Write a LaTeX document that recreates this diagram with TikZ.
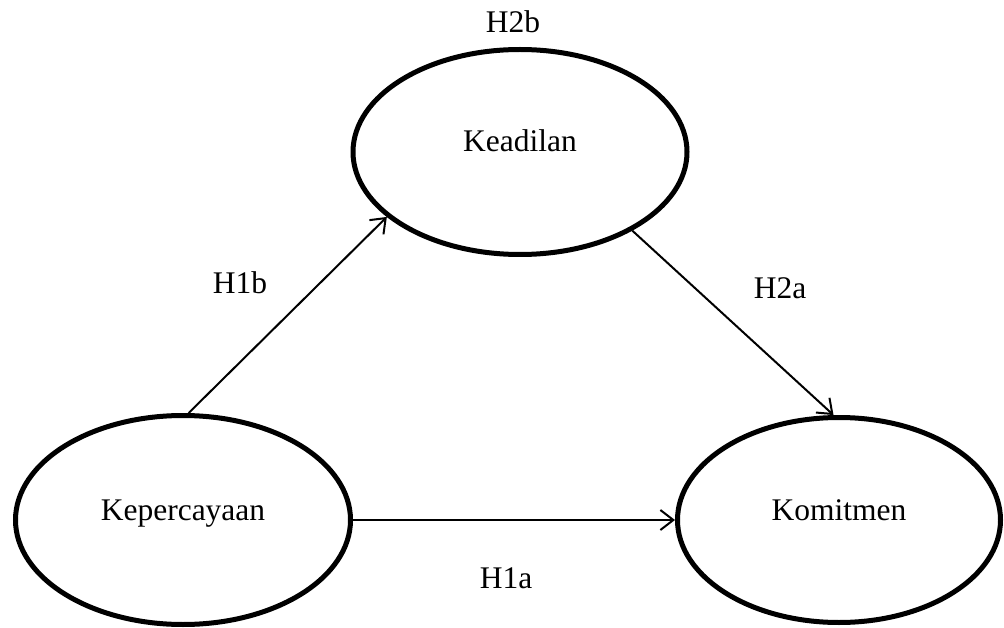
\documentclass[tikz,border=0pt]{standalone}
\usepackage{fontspec}
\setmainfont{Liberation Serif}
\usetikzlibrary{shapes.geometric,arrows.meta}
\begin{document}
\begin{tikzpicture}[x=1pt,y=-1pt,
  construct/.style={draw=black,line width=5pt,ellipse,inner sep=0pt,
    text height=22pt,text depth=22pt,font=\fontsize{31.5}{38}\selectfont},
  hyplabel/.style={font=\fontsize{31.5}{38}\selectfont,inner sep=0pt},
  path/.style={draw=black,line width=2pt,-{Straight Barb[length=13pt,width=20pt,line width=2pt]}}]
\useasboundingbox[fill=white] (0,0) rectangle (1004,628);
\node[construct,minimum width=334pt,minimum height=205pt] (kea) at (520,152) {Keadilan};
\node[construct,minimum width=335pt,minimum height=209pt] (kep) at (183,520) {Kepercayaan};
\node[construct,minimum width=323pt,minimum height=205pt] (kom) at (839,520) {Komitmen};
\node[hyplabel] (h2b) at (513,22) {H2b};
\node[hyplabel] (h1b) at (240,283) {H1b};
\node[hyplabel] (h2a) at (780,288) {H2a};
\node[hyplabel] (h1a) at (506,578) {H1a};
\draw[path] (kep.87) -- (kea.206);
\draw[path] (kea.325) -- (kom.93);
\draw[path] (kep.east) -- (kom.west);
\end{tikzpicture}
\end{document}
